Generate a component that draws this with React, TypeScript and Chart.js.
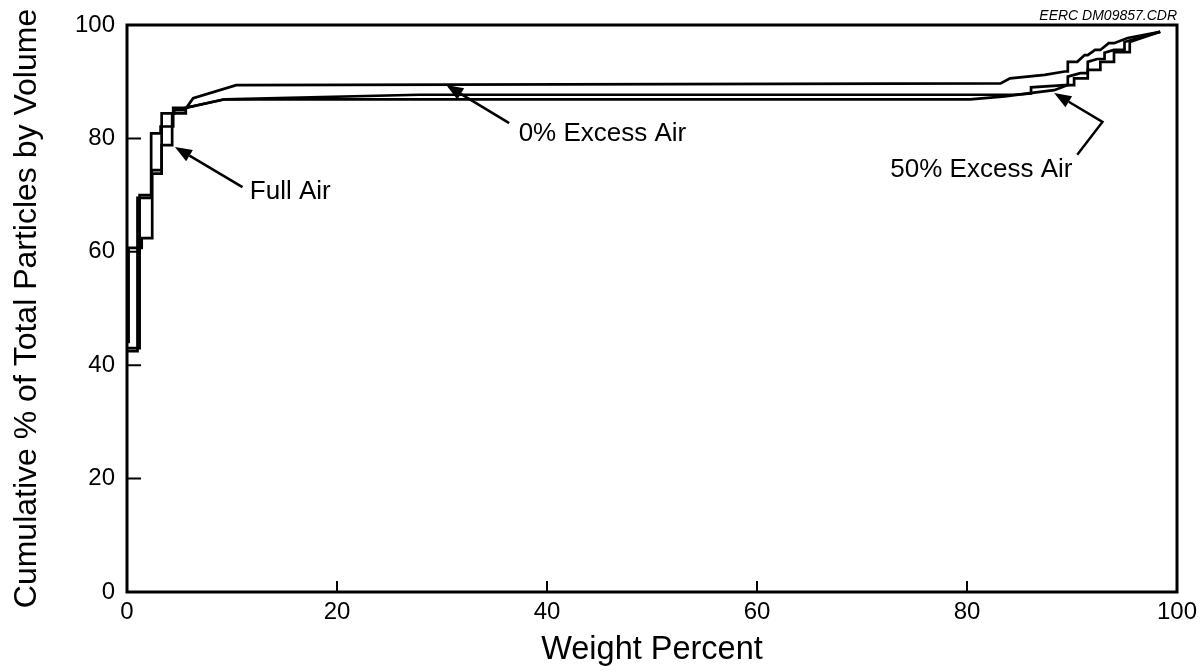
import React, { useEffect, useRef } from "react";
import { Chart, registerables } from "chart.js";

Chart.register(...registerables);

const FONT = '"Liberation Sans", Arial, Helvetica, sans-serif';

const xTickValues = [0, 20, 40, 60, 80, 100];
const yTickValues = [0, 20, 40, 60, 80, 100];

const xTitle = "Weight Percent";
const yTitle = "Cumulative % of Total Particles by Volume";
const sourceNote = "EERC DM09857.CDR";

// Full Air
const fullAirX = [0, 1.2, 1.2, 2.3, 2.3, 3.2, 3.2, 4.4, 4.4, 5.6, 9.3, 27.8, 84.5, 86.1, 86.1, 89.3, 89.6, 89.6, 90.8, 91.5, 91.5, 92.4, 93.1, 93.1, 94.0, 95.0, 95.0, 98.4];
const fullAirY = [43.0, 43.0, 70.0, 70.0, 80.9, 80.9, 82.1, 82.1, 85.4, 85.4, 86.9, 87.7, 87.7, 87.9, 89.0, 89.4, 89.4, 90.9, 91.5, 91.5, 93.5, 94.0, 94.0, 95.1, 95.6, 95.6, 97.0, 98.8];

// 0% Excess Air
const excess0X = [0, 0.15, 0.15, 1.4, 1.4, 2.4, 2.4, 3.3, 3.3, 4.5, 4.5, 5.5, 6.3, 10.4, 83.2, 84.1, 87.4, 89.3, 89.6, 89.6, 90.5, 91.2, 91.5, 92.2, 92.7, 93.5, 94.0, 95.3, 98.4];
const excess0Y = [44.1, 44.1, 60.7, 60.7, 62.4, 62.4, 73.8, 73.8, 84.4, 84.4, 85.0, 85.0, 87.1, 89.4, 89.7, 90.6, 91.2, 91.8, 91.8, 93.5, 93.5, 94.7, 94.7, 95.6, 95.6, 96.8, 96.8, 97.7, 98.8];

// 50% Excess Air
const excess50X = [0, 1.0, 1.0, 2.35, 2.35, 3.3, 3.3, 4.3, 4.3, 5.6, 5.6, 9.3, 80.3, 83.6, 86.0, 88.3, 89.6, 90.2, 90.2, 91.5, 91.5, 92.7, 92.7, 94.0, 94.0, 95.5, 95.5, 98.4];
const excess50Y = [42.5, 42.5, 69.5, 69.5, 74.4, 74.4, 78.8, 78.8, 84.4, 84.4, 85.4, 86.9, 86.9, 87.4, 88.0, 88.5, 89.4, 89.4, 90.6, 90.6, 92.1, 92.1, 93.5, 93.5, 95.2, 95.2, 97.0, 98.8];

const labelTexts = ["Full Air", "0% Excess Air", "50% Excess Air"];
const labelAnchorX = [11.7, 37.3, 72.7];
const labelAnchorY = [70.5, 80.8, 74.4];

// arrows: polylines in data units, last point = arrow tip
const arrowPaths: number[][][] = [
  [[11.0, 71.4], [4.56, 78.5]],
  [[36.4, 82.7], [30.4, 89.4]],
  [[90.5, 77.1], [92.9, 82.9], [88.3, 88.0]],
];

const toPoints = (xs: number[], ys: number[]) => xs.map((x, i) => ({ x, y: ys[i] }));

const framePlugin = {
  id: "frameAndNotes",
  afterDatasetsDraw(chart: any) {
    const { ctx, chartArea: a, scales } = chart;
    const xs = scales.x;
    const ys = scales.y;
    ctx.save();
    ctx.strokeStyle = "#000";
    ctx.fillStyle = "#000";
    ctx.lineCap = "butt";
    // frame
    ctx.lineWidth = 3;
    ctx.strokeRect(a.left, a.top, a.right - a.left, a.bottom - a.top);
    // inward ticks
    ctx.lineWidth = 2;
    ctx.beginPath();
    xTickValues.forEach((v) => {
      const px = xs.getPixelForValue(v);
      ctx.moveTo(px, a.bottom);
      ctx.lineTo(px, a.bottom - 11);
    });
    yTickValues.forEach((v) => {
      const py = ys.getPixelForValue(v);
      ctx.moveTo(a.left, py);
      ctx.lineTo(a.left + 14, py);
    });
    ctx.stroke();

    // arrows
    ctx.lineWidth = 2.5;
    arrowPaths.forEach((path) => {
      const pts = path.map(([x, y]) => [xs.getPixelForValue(x), ys.getPixelForValue(y)]);
      const [tx, ty] = pts[pts.length - 1];
      const [px, py] = pts[pts.length - 2];
      const ang = Math.atan2(ty - py, tx - px);
      const headLen = 17;
      const headHalf = 6.5;
      const bx = tx - headLen * Math.cos(ang);
      const by = ty - headLen * Math.sin(ang);
      ctx.beginPath();
      ctx.moveTo(pts[0][0], pts[0][1]);
      for (let i = 1; i < pts.length - 1; i++) ctx.lineTo(pts[i][0], pts[i][1]);
      ctx.lineTo(bx, by);
      ctx.stroke();
      ctx.beginPath();
      ctx.moveTo(tx, ty);
      ctx.lineTo(bx + headHalf * Math.sin(ang), by - headHalf * Math.cos(ang));
      ctx.lineTo(bx - headHalf * Math.sin(ang), by + headHalf * Math.cos(ang));
      ctx.closePath();
      ctx.fill();
    });

    // labels
    ctx.font = `26px ${FONT}`;
    ctx.textAlign = "left";
    ctx.textBaseline = "middle";
    labelTexts.forEach((t, i) => {
      ctx.fillText(t, xs.getPixelForValue(labelAnchorX[i]), ys.getPixelForValue(labelAnchorY[i]));
    });

    // source note
    ctx.font = `italic 14px ${FONT}`;
    ctx.textAlign = "right";
    ctx.textBaseline = "bottom";
    ctx.fillText(sourceNote, a.right, a.top - 2);
    ctx.restore();
  },
};

export default function App() {
  const ref = useRef<HTMLCanvasElement | null>(null);
  useEffect(() => {
    document.body.style.margin = "0";
    if (!ref.current) return;
    const lineStyle = {
      showLine: true,
      borderColor: "#000",
      backgroundColor: "#000",
      borderWidth: 2.7,
      pointRadius: 0,
      tension: 0,
      fill: false,
    };
    const chart = new Chart(ref.current, {
      type: "scatter",
      data: {
        datasets: [
          { label: "Full Air", data: toPoints(fullAirX, fullAirY), ...lineStyle },
          { label: "0% Excess Air", data: toPoints(excess0X, excess0Y), ...lineStyle },
          { label: "50% Excess Air", data: toPoints(excess50X, excess50Y), ...lineStyle },
        ],
      },
      options: {
        animation: false,
        responsive: false,
        maintainAspectRatio: false,
        layout: { padding: { top: 25, right: 23, left: 0, bottom: 0 } },
        plugins: { legend: { display: false }, tooltip: { enabled: false } },
        scales: {
          x: {
            type: "linear",
            min: 0,
            max: 100,
            grid: { display: false, drawTicks: false },
            border: { display: false },
            afterBuildTicks: (s: any) => {
              s.ticks = xTickValues.map((v) => ({ value: v }));
            },
            ticks: { color: "#000", padding: 6, maxRotation: 0, font: { size: 24, family: FONT } },
            title: {
              display: true,
              text: xTitle,
              color: "#000",
              font: { size: 32.5, family: FONT },
              padding: { top: 0, bottom: 2 },
            },
            afterFit: (s: any) => {
              s.height = 80;
              s.paddingLeft = 0;
              s.paddingRight = 0;
            },
          },
          y: {
            type: "linear",
            min: 0,
            max: 100,
            grid: { display: false, drawTicks: false },
            border: { display: false },
            afterBuildTicks: (s: any) => {
              s.ticks = yTickValues.map((v) => ({ value: v }));
            },
            ticks: { color: "#000", padding: 12, font: { size: 24, family: FONT } },
            title: {
              display: true,
              text: yTitle,
              color: "#000",
              font: { size: 32, family: FONT },
              padding: { top: 8, bottom: 0 },
            },
            afterFit: (s: any) => {
              s.width = 127;
              s.paddingTop = 0;
              s.paddingBottom = 0;
            },
          },
        },
      },
      plugins: [framePlugin],
    });
    return () => chart.destroy();
  }, []);
  return (
    <div style={{ width: 1200, height: 672, background: "#fff" }}>
      <canvas ref={ref} width={1200} height={672} style={{ display: "block" }} />
    </div>
  );
}
